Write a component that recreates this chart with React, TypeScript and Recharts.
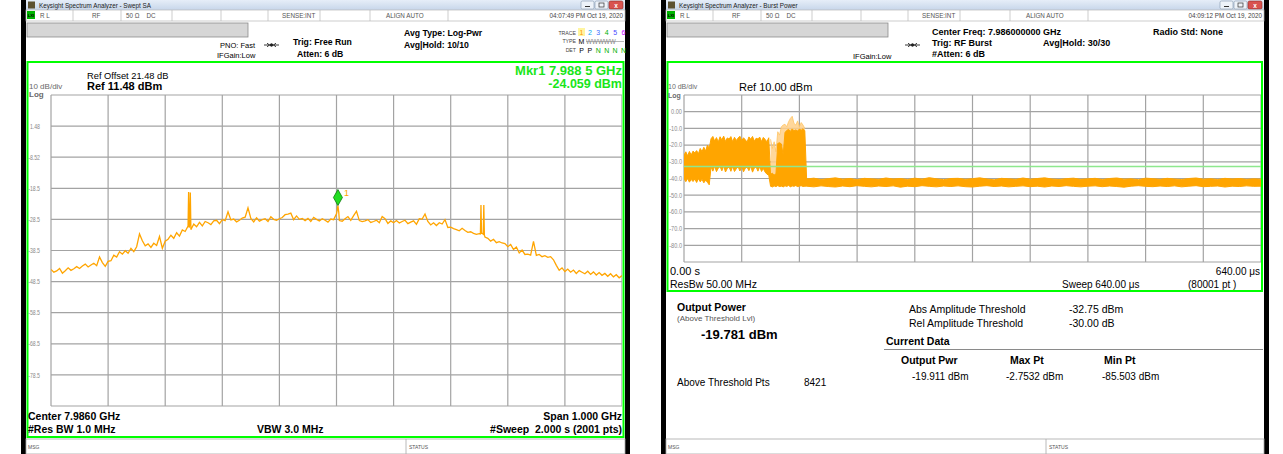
import React from 'react';
import {
  LineChart, Line, XAxis, YAxis, CartesianGrid, ReferenceDot,
  ComposedChart, Area, ReferenceLine,
} from 'recharts';

const FONT = '"Liberation Sans", Arial, Helvetica, sans-serif';
const ORANGE = '#ffa500';
const MKR_GREEN = '#19e619';

// ---------------- Left: Swept SA spectrum ----------------
const specFreqMHz = [
  -500,-495,-490,-485,-480,-475,-470,-465,-460,-455,
  -450,-445,-440,-435,-430,-425,-420,-415,-410,-405,
  -400,-395,-390,-385,-380,-375,-370,-365,-360,-355,
  -350,-345,-340,-335,-330,-325,-320,-315,-310,-305,
  -300,-295,-290,-285,-280,-275,-270,-265,-260,-255,
  -250,-245,-240,-235,-230,-225,-220,-215,-210,-205,
  -200,-195,-190,-185,-180,-175,-170,-165,-160,-155,
  -150,-145,-140,-135,-130,-125,-120,-115,-110,-105,
  -100,-95,-90,-85,-80,-75,-70,-65,-60,-55,
  -50,-45,-40,-35,-30,-25,-20,-15,-10,-5,
  0,5,10,15,20,25,30,35,40,45,
  50,55,60,65,70,75,80,85,90,95,
  100,105,110,115,120,125,130,135,140,145,
  150,155,160,165,170,175,180,185,190,195,
  200,205,210,215,220,225,230,235,240,245,
  250,255,260,265,270,275,280,285,290,295,
  300,305,310,315,320,325,330,335,340,345,
  350,355,360,365,370,375,380,385,390,395,
  400,405,410,415,420,425,430,435,440,445,
  450,455,460,465,470,475,480,485,490,495,
  500,
];
const specLevelDbm = [
  -44.6,-45.5,-45.1,-44.3,-45.8,-45.0,-44.1,-44.9,-44.4,-43.7,
  -44.3,-43.5,-42.9,-43.8,-43.2,-42.6,-43.4,-40.6,-42.4,-43.6,
  -42.0,-41.8,-40.0,-40.6,-38.9,-39.7,-38.6,-39.4,-37.8,-38.9,
  -37.3,-33.2,-35.4,-37.0,-36.4,-37.5,-36.2,-36.9,-34.0,-37.8,
  -35.5,-34.9,-33.6,-34.6,-32.8,-33.9,-31.9,-32.4,-30.7,-31.8,
  -30.0,-30.9,-29.5,-30.6,-29.2,-29.6,-30.2,-29.0,-28.8,-29.9,
  -28.6,-28.9,-26.1,-28.7,-28.4,-29.3,-28.8,-28.1,-27.8,-24.8,
  -28.2,-29.3,-28.0,-29.1,-28.6,-28.3,-29.2,-27.7,-28.5,-28.8,
  -28.3,-27.9,-27.0,-26.8,-26.5,-28.6,-27.4,-28.5,-28.2,-28.9,
  -28.2,-29.2,-27.9,-28.5,-29.0,-28.3,-28.8,-29.4,-28.4,-28.6,
  -26.7,-28.9,-29.1,-28.3,-27.6,-28.8,-27.3,-25.9,-28.9,-29.2,
  -29.0,-28.6,-29.5,-29.2,-28.8,-29.6,-27.6,-28.3,-29.8,-29.0,
  -29.6,-28.9,-29.7,-29.2,-28.8,-29.9,-29.4,-29.0,-30.1,-28.3,
  -28.4,-26.8,-29.2,-30.3,-29.6,-30.5,-29.6,-30.0,-28.6,-31.1,
  -31.0,-31.5,-31.8,-32.2,-31.4,-32.1,-32.7,-32.5,-33.0,-33.3,
  -33.1,-33.0,-34.2,-34.6,-35.5,-34.9,-36.0,-35.7,-36.1,-36.3,
  -37.3,-36.6,-38.2,-37.4,-39.3,-38.4,-39.8,-39.7,-40.0,-35.6,
  -40.1,-39.8,-40.5,-40.2,-40.7,-40.5,-41.5,-43.3,-44.9,-44.1,
  -45.3,-44.5,-45.5,-44.8,-45.9,-45.0,-45.5,-46.0,-45.2,-46.2,
  -45.4,-46.4,-45.6,-46.5,-45.9,-46.8,-46.0,-47.0,-46.3,-47.3,
  -46.6,
];
// narrow spurs and the marker peak
const spurFreqMHz = [-259, -258, -257, -256, 1, 2.5, 4, 252, 253, 254, 257, 258, 259];
const spurLevelDbm = [-19.7, -31.2, -30.0, -19.9, -25.8, -24.06, -26.3, -33.2, -23.9, -33.0, -33.3, -23.9, -33.6];

const leftXTicks = [-500, -400, -300, -200, -100, 0, 100, 200, 300, 400, 500];
const leftYTicks = [11.48, 1.48, -8.52, -18.52, -28.52, -38.52, -48.52, -58.52, -68.52, -78.52, -88.52];
const leftYLabels = ['', '1.48', '-8.52', '-18.5', '-28.5', '-38.5', '-48.5', '-58.5', '-68.5', '-78.5', ''];

const markerFreqMHz = 2.5;
const markerLevelDbm = -24.06;

const spectrumData = specFreqMHz
  .map((f, i) => ({ f, dbm: specLevelDbm[i] }))
  .concat(spurFreqMHz.map((f, i) => ({ f, dbm: spurLevelDbm[i] })))
  .sort((a, b) => a.f - b.f);

// ---------------- Right: Burst power (time domain) ----------------
const seg1Time = [0, 2, 4, 6, 8, 10, 12, 14, 16, 18, 20, 22, 24, 26, 28];
const seg1High = [-26.1, -24.0, -26.4, -23.8, -25.9, -23.6, -24.6, -23.3, -25.2, -22.0, -23.9, -21.3, -23.5, -20.0, -21.9];
const seg1Low = [-40.2, -41.9, -40.0, -42.2, -40.6, -41.8, -40.3, -42.4, -40.1, -42.0, -40.5, -42.6, -41.0, -42.3, -43.8];

const seg2Time = [30, 32, 34, 36, 38, 40, 42, 44, 46, 48, 50, 52, 54, 56, 58, 60, 62, 64, 66, 68, 70, 72, 74, 76, 78, 80, 82, 84, 86, 88, 90, 92, 94];
const seg2High = [-16.2, -14.8, -17.6, -15.5, -18.1, -15.0, -16.9, -14.6, -17.8, -15.7, -16.4, -14.9, -18.0, -15.3, -17.2, -15.8, -14.7, -17.5, -15.6, -16.8, -18.2, -15.1, -16.5, -14.8, -17.7, -15.9, -16.3, -15.2, -17.9, -15.4, -16.6, -18.0, -15.6];
const seg2Low = [-33.0, -35.6, -32.6, -35.9, -33.8, -32.9, -35.4, -32.5, -36.1, -34.0, -33.1, -35.7, -32.8, -35.8, -34.2, -33.0, -35.5, -32.7, -36.0, -33.9, -33.2, -35.3, -32.6, -36.2, -33.7, -33.1, -35.6, -32.9, -35.8, -34.0, -36.2, -37.4, -38.0];

const seg3Time = [96, 98, 100, 102];
const seg3High = [-37.5, -36.8, -37.9, -37.2];
const seg3Low = [-44.6, -45.0, -44.4, -44.8];

const seg4Time = [104, 106, 108, 110, 112, 114, 116, 118, 120, 122, 124, 126, 128, 130, 132, 134];
const seg4High = [-19.0, -18.6, -19.3, -26.0, -12.5, -11.2, -10.6, -11.8, -10.3, -11.5, -10.9, -11.6, -10.4, -11.1, -10.2, -11.4];
const seg4Low = [-44.2, -44.8, -44.5, -45.0, -44.3, -44.7, -44.1, -44.9, -44.4, -44.6, -44.2, -44.8, -44.5, -44.3, -44.7, -44.6];

const seg5Time = [
  136, 144, 152, 160, 168, 176, 184, 192, 200, 208, 216, 224, 232, 240, 248, 256, 264, 272, 280, 288,
  296, 304, 312, 320, 328, 336, 344, 352, 360, 368, 376, 384, 392, 400, 408, 416, 424, 432, 440, 448,
  456, 464, 472, 480, 488, 496, 504, 512, 520, 528, 536, 544, 552, 560, 568, 576, 584, 592, 600, 608,
  616, 624, 632, 640,
];
const seg5High = [
  -40.3, -39.8, -40.6, -40.1, -39.6, -40.4, -40.0, -40.7, -39.9, -40.2,
  -40.5, -39.7, -40.3, -40.0, -40.6, -39.8, -40.4, -39.5, -40.2, -40.7,
  -40.0, -39.9, -40.5, -40.1, -39.6, -40.3, -40.8, -39.9, -40.2, -40.5,
  -39.7, -40.4, -40.0, -39.6, -40.3, -40.6, -40.1, -39.8, -40.5, -40.2,
  -39.9, -40.6, -40.0, -39.7, -40.4, -40.2, -40.7, -39.8, -40.1, -40.5,
  -39.9, -40.3, -40.6, -40.0, -39.7, -40.4, -40.1, -40.6, -39.9, -40.3,
  -40.0, -40.5, -40.2, -40.4,
];
const seg5Low = [
  -44.6, -45.0, -44.4, -44.8, -45.1, -44.5, -44.9, -44.3, -44.7, -45.0,
  -44.5, -44.8, -44.4, -45.2, -44.6, -44.9, -44.3, -44.7, -45.0, -44.5,
  -44.8, -44.4, -44.9, -45.1, -44.6, -44.3, -44.8, -44.5, -45.0, -44.7,
  -44.4, -44.9, -44.6, -45.1, -44.5, -44.8, -44.3, -44.7, -45.0, -44.6,
  -44.4, -44.9, -44.5, -44.8, -45.2, -44.6, -44.3, -44.7, -44.9, -44.5,
  -44.8, -44.4, -45.0, -44.6, -44.3, -44.9, -44.7, -44.5, -45.1, -44.6,
  -44.8, -44.4, -44.7, -44.6,
];

// sparse tall bursts (lighter envelope)
const peakTime = [96, 98, 100, 102, 104, 106, 108, 110, 112, 114, 116, 118, 120, 122, 124, 126, 128, 130, 132, 134];
const peakDbm = [-16.5, -22.0, -18.0, -24.0, -12.0, -14.0, -9.0, -8.0, -7.5, -9.0, -6.0, -4.0, -2.75, -7.0, -8.0, -5.5, -9.0, -6.5, -8.0, -10.0];

const burstTime = [...seg1Time, ...seg2Time, ...seg3Time, ...seg4Time, ...seg5Time];
const burstHigh = [...seg1High, ...seg2High, ...seg3High, ...seg4High, ...seg5High];
const burstLow = [...seg1Low, ...seg2Low, ...seg3Low, ...seg4Low, ...seg5Low];

const burstData = burstTime.map((t, i) => {
  const pi = peakTime.indexOf(t);
  return {
    t,
    band: [burstLow[i], burstHigh[i]],
    peak: pi >= 0 ? [burstLow[i], peakDbm[pi]] : null,
  };
});

const rightXTicks = [0, 64, 128, 192, 256, 320, 384, 448, 512, 576, 640];
const rightYTicks = [10, 0, -10, -20, -30, -40, -50, -60, -70, -80, -90];
const rightYLabels = ['', '0.00', '-10.0', '-20.0', '-30.0', '-40.0', '-50.0', '-60.0', '-70.0', '-80.0', ''];
const absThresholdDbm = -32.75;

// ---------------- helpers ----------------
type TxProps = { x: number; y: number; s?: number; b?: boolean; c?: string; a?: 'start' | 'middle' | 'end'; children: React.ReactNode };
const Tx = ({ x, y, s = 9, b = false, c = '#000', a = 'start', children }: TxProps) => (
  <text x={x} y={y} fontSize={s} fontWeight={b ? 700 : 400} fill={c} textAnchor={a} style={{ whiteSpace: 'pre' }}>
    {children}
  </text>
);

const SEP_OFFSETS = [47, 95, 146, 195, 242, 294, 344, 422];

function WindowChrome({ x0, x1, title, time }: { x0: number; x1: number; title: string; time: string }) {
  return (
    <g>
      <rect x={x0 - 5} y={0} width={5} height={454} fill="#000" />
      <rect x={x1} y={0} width={5} height={454} fill="#000" />
      <rect x={x0} y={0} width={x1 - x0} height={10} fill="url(#titleGrad)" />
      <rect x={x0 + 2} y={1.5} width={7} height={7} fill="#5d5230" />
      <Tx x={x0 + 13} y={7.8} s={6.3} c="#1b1b1b">{title}</Tx>
      <rect x={x1 - 44} y={1} width={13} height={8} rx={1.5} fill="#eef3f9" stroke="#8193ab" strokeWidth={0.6} />
      <line x1={x1 - 40} y1={6.5} x2={x1 - 35} y2={6.5} stroke="#333" strokeWidth={1} />
      <rect x={x1 - 30} y={1} width={13} height={8} rx={1.5} fill="#eef3f9" stroke="#8193ab" strokeWidth={0.6} />
      <rect x={x1 - 26} y={3} width={5} height={4} fill="none" stroke="#333" strokeWidth={0.7} />
      <rect x={x1 - 16} y={1} width={14} height={8} rx={1.5} fill="#d9534f" stroke="#8a2a25" strokeWidth={0.6} />
      <Tx x={x1 - 9} y={7.6} s={6.5} b c="#fff" a="middle">x</Tx>
      {/* status row */}
      <rect x={x0} y={10} width={x1 - x0} height={11} fill="#fff" stroke="#b8b8b8" strokeWidth={0.7} />
      <rect x={x0 + 1} y={11} width={8} height={8} fill="#00b400" />
      <Tx x={x0 + 5} y={17.3} s={4.2} b c="#000" a="middle">LXI</Tx>
      {SEP_OFFSETS.map((o) => (
        <line key={o} x1={x0 + o} y1={10} x2={x0 + o} y2={21} stroke="#b8b8b8" strokeWidth={0.7} />
      ))}
      <Tx x={x0 + 14} y={18} s={6.3} c="#555">R L</Tx>
      <Tx x={x0 + 66} y={18} s={6.3} c="#555">RF</Tx>
      <Tx x={x0 + 100} y={18} s={6.3} c="#555">50 Ω    DC</Tx>
      <Tx x={x0 + 256} y={18} s={6.3} c="#555">SENSE:INT</Tx>
      <Tx x={x0 + 360} y={18} s={6.3} c="#555">ALIGN AUTO</Tx>
      <Tx x={x1 - 2} y={18} s={6.3} c="#444" a="end">{time}</Tx>
      {/* gray input box */}
      <rect x={x0 + 1} y={23} width={221} height={14} fill="#d6d6d6" stroke="#8c8c8c" strokeWidth={0.8} />
      {/* msg row */}
      <rect x={x0} y={439} width={x1 - x0} height={15} fill="#fff" stroke="#a8a8a8" strokeWidth={0.8} />
      <Tx x={x0 + 2} y={449} s={5} c="#555">MSG</Tx>
      <line x1={x0 + 380} y1={439} x2={x0 + 380} y2={454} stroke="#a8a8a8" strokeWidth={0.8} />
      <Tx x={x0 + 383} y={449} s={5} c="#555">STATUS</Tx>
    </g>
  );
}

function TrigArrow({ x, y }: { x: number; y: number }) {
  return (
    <g stroke="#222" strokeWidth={0.9} fill="#222">
      <line x1={x} y1={y} x2={x + 15} y2={y} />
      <circle cx={x + 7.5} cy={y} r={1.3} />
      <path d={`M${x + 3} ${y - 1.8} L${x + 5.5} ${y} L${x + 3} ${y + 1.8}`} fill="none" />
      <path d={`M${x + 12} ${y - 1.8} L${x + 9.5} ${y} L${x + 12} ${y + 1.8}`} fill="none" />
    </g>
  );
}

const traceNumColors = ['#ff9900', '#00a8f0', '#3c6cff', '#00b000', '#4a4aff', '#c000ff'];

function Overlay() {
  return (
    <svg width={1283} height={454} style={{ position: 'absolute', left: 0, top: 0 }} fontFamily={FONT}>
      <defs>
        <linearGradient id="titleGrad" x1="0" y1="0" x2="0" y2="1">
          <stop offset="0" stopColor="#e6eef8" />
          <stop offset="1" stopColor="#c7d6ea" />
        </linearGradient>
      </defs>
      <rect x={0} y={0} width={1283} height={454} fill="#fff" />

      {/* ---------- LEFT WINDOW ---------- */}
      <WindowChrome x0={26} x1={625} title="Keysight Spectrum Analyzer - Swept SA" time="04:07:49 PM Oct 19, 2020" />
      <Tx x={220} y={48} s={7.5}>PNO: Fast</Tx>
      <Tx x={217} y={58} s={7.5}>IFGain:Low</Tx>
      <TrigArrow x={264} y={45} />
      <Tx x={293} y={45} s={8.7} b>Trig: Free Run</Tx>
      <Tx x={297} y={57} s={8.7} b>Atten: 6 dB</Tx>
      <Tx x={404} y={36} s={8.7} b>Avg Type: Log-Pwr</Tx>
      <Tx x={404} y={48} s={8.7} b>Avg|Hold: 10/10</Tx>
      <Tx x={576} y={35} s={5.2} c="#444" a="end">TRACE</Tx>
      <Tx x={576} y={43} s={5.2} c="#444" a="end">TYPE</Tx>
      <Tx x={576} y={52} s={5.2} c="#444" a="end">DET</Tx>
      <rect x={578} y={28} width={7} height={8} fill="#fff5a0" />
      {traceNumColors.map((c, i) => (
        <Tx key={i} x={581.5 + i * 8.4} y={35} s={7} c={c} a="middle">{String(i + 1)}</Tx>
      ))}
      <Tx x={581.5} y={44} s={7} a="middle">M</Tx>
      <Tx x={586} y={44} s={6.3} c="#888">WWWWW</Tx>
      <line x1={586} y1={41.5} x2={624} y2={41.5} stroke="#888" strokeWidth={0.6} />
      <Tx x={581.5} y={53} s={7} a="middle">P</Tx>
      <Tx x={589.9} y={53} s={7} a="middle">P</Tx>
      {[2, 3, 4, 5].map((i) => (
        <Tx key={i} x={581.5 + i * 8.4} y={53} s={7} c="#00b000" a="middle">N</Tx>
      ))}
      <rect x={27.5} y={62} width={596} height={375} fill="none" stroke="#00ff00" strokeWidth={2} />
      <Tx x={29} y={89} s={8} c="#6a6a6a">10 dB/div</Tx>
      <Tx x={29} y={96.5} s={8} b c="#6a6a6a">Log</Tx>
      <Tx x={87} y={78.5} s={9.3}>Ref Offset 21.48 dB</Tx>
      <Tx x={87} y={90} s={11} b>Ref 11.48 dBm</Tx>
      <Tx x={622} y={75} s={13} b c={MKR_GREEN} a="end">Mkr1 7.988 5 GHz</Tx>
      <Tx x={622} y={88} s={12.5} b c={MKR_GREEN} a="end">-24.059 dBm</Tx>
      <Tx x={28} y={420} s={10.5} b>Center 7.9860 GHz</Tx>
      <Tx x={622} y={420} s={10.5} b a="end">Span 1.000 GHz</Tx>
      <Tx x={28} y={432.5} s={10.5} b>#Res BW 1.0 MHz</Tx>
      <Tx x={257} y={432.5} s={10.5} b>VBW 3.0 MHz</Tx>
      <Tx x={622} y={432.5} s={10.5} b a="end">#Sweep  2.000 s (2001 pts)</Tx>

      {/* ---------- RIGHT WINDOW ---------- */}
      <WindowChrome x0={666} x1={1264} title="Keysight Spectrum Analyzer - Burst Power" time="04:09:12 PM Oct 19, 2020" />
      <Tx x={853} y={59} s={7.5}>IFGain:Low</Tx>
      <TrigArrow x={905} y={45} />
      <Tx x={932} y={35} s={9} b>Center Freq: 7.986000000 GHz</Tx>
      <Tx x={1153} y={35} s={9} b>Radio Std: None</Tx>
      <Tx x={932} y={46} s={9} b>Trig: RF Burst</Tx>
      <Tx x={1043} y={46} s={9} b>Avg|Hold: 30/30</Tx>
      <Tx x={932} y={57} s={9} b>#Atten: 6 dB</Tx>
      <rect x={667.5} y={62} width={594.5} height={229} fill="none" stroke="#00ff00" strokeWidth={2} />
      <Tx x={668} y={89} s={7} c="#6a6a6a">10 dB/div</Tx>
      <Tx x={668} y={98} s={7} b c="#6a6a6a">Log</Tx>
      <Tx x={739} y={91} s={11}>Ref 10.00 dBm</Tx>
      <Tx x={670} y={275} s={11}>0.00 s</Tx>
      <Tx x={1260} y={275} s={10} a="end">640.00 μs</Tx>
      <Tx x={670} y={288} s={10.5}>ResBw 50.00 MHz</Tx>
      <Tx x={1062} y={288} s={10}>Sweep 640.00 μs</Tx>
      <Tx x={1188} y={288} s={10}>(80001 pt )</Tx>

      <Tx x={677} y={311} s={10.5} b>Output Power</Tx>
      <Tx x={677} y={321} s={8} c="#555">(Above Threshold Lvl)</Tx>
      <Tx x={701} y={339} s={13} b>-19.781 dBm</Tx>
      <Tx x={909} y={313} s={10.5}>Abs Amplitude Threshold</Tx>
      <Tx x={1069} y={313} s={10.5}>-32.75 dBm</Tx>
      <Tx x={909} y={327} s={10.5}>Rel Amplitude Threshold</Tx>
      <Tx x={1069} y={327} s={10.5}>-30.00 dB</Tx>
      <Tx x={886} y={345} s={10.5} b>Current Data</Tx>
      <line x1={884} y1={349.5} x2={1263} y2={349.5} stroke="#8a8a8a" strokeWidth={1} />
      <Tx x={901} y={364} s={10.5} b>Output Pwr</Tx>
      <Tx x={1010} y={364} s={10.5} b>Max Pt</Tx>
      <Tx x={1104} y={364} s={10.5} b>Min Pt</Tx>
      <Tx x={912} y={380} s={10}>-19.911 dBm</Tx>
      <Tx x={1006} y={380} s={10}>-2.7532 dBm</Tx>
      <Tx x={1102} y={380} s={10}>-85.503 dBm</Tx>
      <Tx x={677} y={386} s={10}>Above Threshold Pts</Tx>
      <Tx x={804} y={386} s={10}>8421</Tx>
    </svg>
  );
}

const DiamondMarker = (props: any) => {
  const { cx, cy } = props;
  if (cx == null || cy == null) return null;
  return (
    <g>
      <polygon
        points={`${cx},${cy - 16} ${cx + 4.5},${cy - 8} ${cx},${cy} ${cx - 4.5},${cy - 8}`}
        fill="#22dd22"
        stroke="#0a7a0a"
        strokeWidth={0.8}
      />
      <text x={cx + 6} y={cy - 10} fontSize={9} fill={ORANGE} fontFamily={FONT}>1</text>
    </g>
  );
};

function labelFor(ticks: number[], labels: string[], v: number) {
  let best = 0;
  for (let i = 1; i < ticks.length; i++) if (Math.abs(ticks[i] - v) < Math.abs(ticks[best] - v)) best = i;
  return labels[best];
}

// narrow instrument-style tick label
function makeTick(ticks: number[], labels: string[], size: number, squeeze: number) {
  return (props: any) => {
    const { x, y, payload } = props;
    const label = labelFor(ticks, labels, payload.value);
    if (!label) return <g />;
    return (
      <g transform={`translate(${x},${y})`}>
        <text x={0} y={0} dy="0.36em" textAnchor="end" fontSize={size} fill="#8a8a8a" fontFamily={FONT} transform={`scale(${squeeze},1)`}>
          {label}
        </text>
      </g>
    );
  };
}

const LeftTick = makeTick(leftYTicks, leftYLabels, 7.2, 0.72);
const RightTick = makeTick(rightYTicks, rightYLabels, 6.6, 0.85);

export default function App() {
  return (
    <div style={{ position: 'absolute', left: 0, top: 0, width: 1283, height: 454, background: '#fff', fontFamily: FONT, overflow: 'hidden' }}>
      <Overlay />
      <div style={{ position: 'absolute', left: 0, top: 90 }}>
        <LineChart width={622} height={321} data={spectrumData} margin={{ top: 5, right: 0, bottom: 5, left: 0 }}>
          <CartesianGrid stroke="#a3a3a3" strokeWidth={1.2} />
          <XAxis type="number" dataKey="f" domain={[-500, 500]} ticks={leftXTicks} hide allowDataOverflow />
          <YAxis
            type="number"
            domain={[-88.52, 11.48]}
            ticks={leftYTicks}
            interval={0}
            width={51}
            tickSize={0}
            tickMargin={11}
            axisLine={false}
            tickLine={false}
            tick={LeftTick}
            allowDataOverflow
          />
          <Line type="linear" dataKey="dbm" stroke={ORANGE} strokeWidth={1.3} dot={false} isAnimationActive={false} />
          <ReferenceDot x={markerFreqMHz} y={markerLevelDbm} r={0} shape={DiamondMarker} ifOverflow="visible" />
        </LineChart>
      </div>
      <div style={{ position: 'absolute', left: 640, top: 90 }}>
        <ComposedChart width={621} height={177} data={burstData} margin={{ top: 5, right: 0, bottom: 5, left: 0 }}>
          <CartesianGrid stroke="#a3a3a3" strokeWidth={1.2} />
          <XAxis type="number" dataKey="t" domain={[0, 640]} ticks={rightXTicks} hide allowDataOverflow />
          <YAxis
            type="number"
            domain={[-90, 10]}
            ticks={rightYTicks}
            interval={0}
            width={44}
            tickSize={0}
            tickMargin={2}
            axisLine={false}
            tickLine={false}
            tick={RightTick}
            allowDataOverflow
          />
          <Area type="linear" dataKey="peak" stroke="#ffc463" strokeWidth={0.8} fill="#ffd08a" fillOpacity={0.85} connectNulls={false} isAnimationActive={false} />
          <Area type="linear" dataKey="band" stroke={ORANGE} strokeWidth={1} fill={ORANGE} fillOpacity={1} isAnimationActive={false} />
          <ReferenceLine y={absThresholdDbm} stroke="#8ee88e" strokeWidth={1.5} />
        </ComposedChart>
      </div>
    </div>
  );
}
